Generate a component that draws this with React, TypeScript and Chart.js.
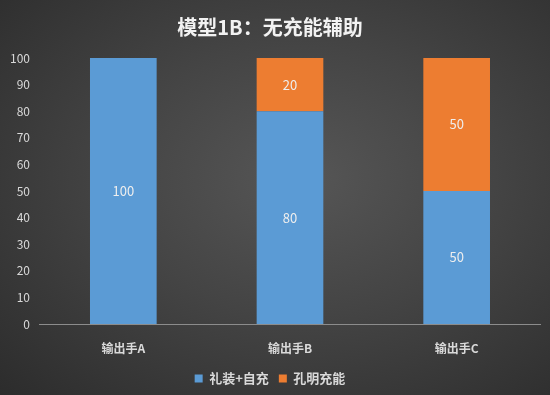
import React, { useEffect, useRef } from "react";
import { Chart, registerables } from "chart.js";

Chart.register(...registerables);

const title = "模型1B：无充能辅助";
const categories = ["输出手A", "输出手B", "输出手C"];
const seriesNames = ["礼装+自充", "孔明充能"];
const selfCharge = [100, 80, 50];
const kongmingCharge = [null, 20, 50];
const yTicks = { min: 0, max: 100, step: 10 };

const FONT = "'Noto Sans CJK SC', 'Noto Sans', sans-serif";

const valueLabels = {
  id: "valueLabels",
  afterDatasetsDraw(chart: any) {
    const ctx = chart.ctx;
    ctx.save();
    ctx.font = `13px ${FONT}`;
    ctx.fillStyle = "#eeeeee";
    ctx.textAlign = "center";
    ctx.textBaseline = "middle";
    chart.data.datasets.forEach((ds: any, di: number) => {
      const meta = chart.getDatasetMeta(di);
      meta.data.forEach((bar: any, i: number) => {
        const v = ds.data[i];
        if (v == null || v === 0) return;
        const y = (bar.y + bar.base) / 2;
        ctx.fillText(String(v), bar.x, y);
      });
    });
    ctx.restore();
  },
};

export default function App() {
  const ref = useRef<HTMLCanvasElement>(null);
  useEffect(() => {
    document.body.style.margin = "0";
    const chart = new Chart(ref.current!, {
      type: "bar",
      data: {
        labels: categories,
        datasets: [
          {
            label: seriesNames[0],
            data: selfCharge,
            backgroundColor: "#5b9bd5",
            categoryPercentage: 1,
            barPercentage: 0.4,
          },
          {
            label: seriesNames[1],
            data: kongmingCharge as any,
            backgroundColor: "#ed7d31",
            categoryPercentage: 1,
            barPercentage: 0.4,
          },
        ],
      },
      options: {
        animation: false,
        responsive: false,
        layout: { padding: { left: 0, right: 10, top: 9, bottom: 0 } },
        plugins: {
          title: {
            display: true,
            text: title,
            color: "#f2f2f2",
            font: { family: FONT, size: 20, weight: "bold" },
            padding: { top: 6, bottom: 19 },
          },
          legend: {
            position: "bottom",
            labels: {
              color: "#d9d9d9",
              boxWidth: 8,
              boxHeight: 8,
              padding: 10,
              font: { family: FONT, size: 13, weight: "bold" },
            },
          },
          tooltip: { enabled: false },
        },
        scales: {
          x: {
            stacked: true,
            grid: { display: false, drawTicks: false },
            border: { display: true, color: "#8c8c8c", width: 1 },
            ticks: {
              color: "#d9d9d9",
              padding: 17,
              font: { family: FONT, size: 12, weight: "bold" },
            },
            afterFit(scale: any) {
              scale.height = 38;
            },
          },
          y: {
            stacked: true,
            min: yTicks.min,
            max: yTicks.max,
            grid: { display: false, drawTicks: false },
            border: { display: false },
            ticks: {
              stepSize: yTicks.step,
              color: "#d9d9d9",
              padding: 10,
              font: { family: FONT, size: 12 },
            },
          },
        },
      },
      plugins: [valueLabels],
    });
    return () => chart.destroy();
  }, []);
  return (
    <div
      style={{
        position: "fixed",
        left: 0,
        top: 0,
        width: 550,
        height: 395,
        background:
          "radial-gradient(ellipse at 55% 45%, #565656 0%, #444444 45%, #2c2c2c 100%)",
      }}
    >
      <canvas ref={ref} width={550} height={395} />
    </div>
  );
}
